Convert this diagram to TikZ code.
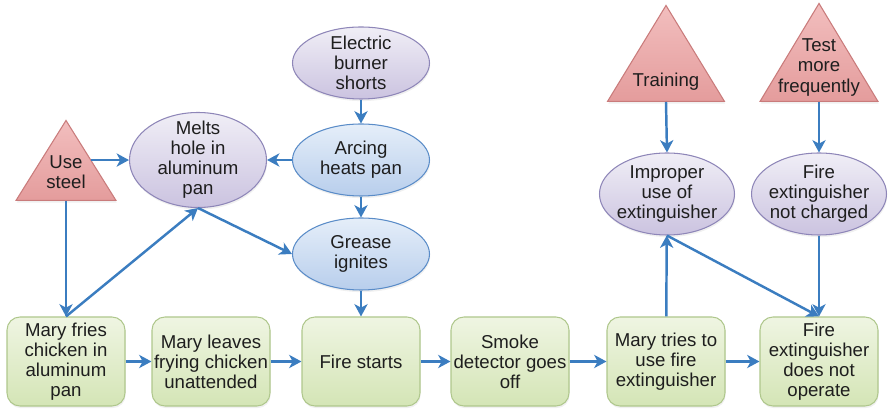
\documentclass[tikz,border=0pt]{standalone}
\usepackage{fontspec}
\setmainfont{Liberation Sans}
\usepackage{tikz}
\usetikzlibrary{arrows.meta,positioning,shapes.geometric,shadows}

\definecolor{boxtop}{HTML}{EFF5E2}
\definecolor{boxbot}{HTML}{D4E5B6}
\definecolor{boxline}{HTML}{AFC78C}
\definecolor{lilactop}{HTML}{F0EEF6}
\definecolor{lilacbot}{HTML}{CBC3E0}
\definecolor{lilacline}{HTML}{8E86B8}
\definecolor{bluetop}{HTML}{E5EEF9}
\definecolor{bluebot}{HTML}{B8CEEC}
\definecolor{blueline}{HTML}{5A8CC8}
\definecolor{fixtop}{HTML}{F2BEBE}
\definecolor{fixbot}{HTML}{E49C9C}
\definecolor{fixline}{HTML}{C97B7B}
\definecolor{linkblue}{HTML}{3B7DC0}
\definecolor{ink}{HTML}{1E1E1E}

\begin{document}
\begin{tikzpicture}
			[
				align=center,
				font=\fontsize{10.6}{11.4}\selectfont,
				text=ink,
				soft/.style={drop shadow={opacity=0.12, shadow xshift=0.4pt, shadow yshift=-1.2pt}},
				event/.style={soft, draw=boxline, line width=0.6pt, rounded corners=0.26cm,
					top color=boxtop, bottom color=boxbot,
					minimum width=2.36cm, minimum height=1.78cm, inner sep=0pt},
				cause/.style={soft, ellipse, draw=lilacline, line width=0.6pt,
					top color=lilactop, bottom color=lilacbot,
					minimum width=2.74cm, minimum height=1.44cm, inner sep=-4pt},
				mech/.style={cause, draw=blueline, top color=bluetop, bottom color=bluebot},
				fix/.style={soft, isosceles triangle, shape border rotate=90, anchor=south,
					isosceles triangle stretches, draw=fixline, line width=0.6pt,
					top color=fixtop, bottom color=fixbot, inner sep=0pt},
				arrow/.style={-{Stealth[length=7pt,width=7.5pt,inset=2pt]},
					draw=linkblue, line width=1.4pt}
			]

			\useasboundingbox (0,0) rectangle (17.78,8.26);

			% sequence of events
			\node[event] (b1) at ( 1.32, 1.03) {Mary fries\\chicken in\\aluminum\\pan};
			\node[event] (b2) at ( 4.22, 1.03) {Mary leaves\\frying chicken\\unattended};
			\node[event] (b3) at ( 7.22, 1.03) {Fire starts};
			\node[event] (b4) at (10.20, 1.03) {Smoke\\detector goes\\off};
			\node[event] (b5) at (13.32, 1.03) {Mary tries to\\use fire\\extinguisher};
			\node[event] (b6) at (16.38, 1.03) {Fire\\extinguisher\\does not\\operate};

			% causes
			\node[cause] (burner) at ( 7.22, 7.00) {Electric\\burner\\shorts};
			\node[mech] (arcing) at ( 7.22, 5.06) {Arcing\\heats pan};
			\node[cause,minimum height=1.9cm] (melt) at ( 3.96, 5.06) {Melts\\hole in\\aluminum\\pan};
			\node[mech] (grease) at ( 7.22, 3.18) {Grease\\ignites};
			\node[cause,minimum width=2.7cm,minimum height=1.64cm] (misuse) at (13.34, 4.38) {Improper\\use of\\extinguisher};
			\node[cause,minimum width=2.7cm,minimum height=1.64cm] (empty) at (16.38, 4.38) {Fire\\extinguisher\\not charged};

			% fixes (triangle first, words on top)
			\node[fix,minimum width=2.0cm,minimum height=1.6cm] (steel) at ( 1.32, 4.24) {};
			\node[fix,minimum width=2.34cm,minimum height=1.92cm] (train) at (13.32, 6.22) {};
			\node[fix,minimum width=2.36cm,minimum height=1.96cm] (test) at (16.38, 6.22) {};
			\node (steeltext) at ( 1.32, 4.82) {Use\\steel};
			\node (traintext) at (13.32, 6.62) {Training};
			\node (testtext) at (16.38, 6.91) {Test\\more\\frequently};

			% links
			\foreach \from/\to in {b1/b2,b2/b3,b3/b4,b4/b5,b5/b6,
				burner/arcing,arcing/grease,grease/b3,arcing/melt,
				empty/b6,b5/misuse}
			\draw[arrow] (\from) -- (\to);

			\foreach \from/\to in {steel/b1,train/misuse,test/empty}
			\draw[arrow] (\from.south) -- (\to.north);

			\draw[arrow] (steel.right side) -- (steel.right side -| melt.west);
			\draw[arrow] (b1.north) -- (melt.south);
			\draw[arrow] (melt.south) -- (grease.west);
			\draw[arrow] (misuse.south) -- (b6.north);

		\end{tikzpicture}
\end{document}
